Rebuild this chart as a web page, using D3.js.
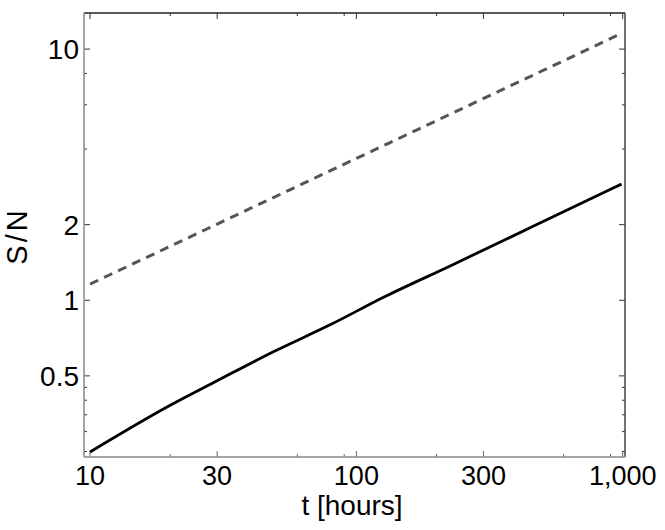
<!DOCTYPE html>
<html>
<head>
<meta charset="utf-8">
<script src="https://cdn.jsdelivr.net/npm/d3@7"></script>
<style>
  body { margin: 0; background: #fff; }
  svg { display: block; }
  text { font-family: "Liberation Sans", Arial, Helvetica, sans-serif; fill: #000; }
</style>
</head>
<body>
<svg></svg>
<script>
// data
var tSolid  = [10, 20, 30, 49, 80, 127, 225, 461, 990];
var snSolid = [0.249, 0.382, 0.478, 0.625, 0.80, 1.03, 1.37, 1.97, 2.90];
var tDashed  = [10, 100, 1000];
var snDashed = [1.16, 3.67, 11.6];

var xMajor = [10, 30, 100, 300, 1000];
var xMinor = [20, 60, 90, 200, 600, 900];
var yMajor = [0.5, 1, 2, 10];
var yMinor = [0.25, 0.3, 0.35, 0.4, 0.45, 4, 6, 8];

var W = 665, H = 530;
// plot frame (window.top is read-only, so use other names)
var pL = 84, pR = 625, pT = 13, pB = 457;

var svg = d3.select('svg').attr('width', W).attr('height', H);

var x = d3.scaleLog().domain([9.49, 1020]).range([pL, pR]);
var y = d3.scaleLog().domain([0.2377, 13.92]).range([pB, pT]);

var fmtX = d3.format(',');

// ticks (inward, on all four sides)
function xticks(vals, len) {
  vals.forEach(function(v) {
    svg.append('line').attr('x1', x(v)).attr('x2', x(v))
      .attr('y1', pB).attr('y2', pB - len).attr('stroke', '#666').attr('stroke-width', 1);
    svg.append('line').attr('x1', x(v)).attr('x2', x(v))
      .attr('y1', pT).attr('y2', pT + len).attr('stroke', '#333').attr('stroke-width', 1);
  });
}
function yticks(vals, len) {
  vals.forEach(function(v) {
    svg.append('line').attr('y1', y(v)).attr('y2', y(v))
      .attr('x1', pL).attr('x2', pL + len).attr('stroke', '#333').attr('stroke-width', 1);
    svg.append('line').attr('y1', y(v)).attr('y2', y(v))
      .attr('x1', pR).attr('x2', pR - len).attr('stroke', '#333').attr('stroke-width', 1);
  });
}
xticks(xMajor, 6);
xticks(xMinor, 3);
yticks(yMajor, 6);
yticks(yMinor, 3);

// frame
svg.append('line').attr('x1', pL).attr('x2', pR).attr('y1', pT).attr('y2', pT)
  .attr('stroke', '#222').attr('stroke-width', 1.3);
svg.append('line').attr('x1', pR).attr('x2', pR).attr('y1', pT).attr('y2', pB)
  .attr('stroke', '#444').attr('stroke-width', 1.5);
svg.append('line').attr('x1', pL).attr('x2', pL).attr('y1', pT).attr('y2', pB)
  .attr('stroke', '#888').attr('stroke-width', 1.5);
svg.append('line').attr('x1', pL).attr('x2', pR).attr('y1', pB).attr('y2', pB)
  .attr('stroke', '#888').attr('stroke-width', 1.5);

// tick labels
svg.selectAll('.xl').data(xMajor).enter().append('text')
  .attr('class', 'xl')
  .attr('x', function(d) { return x(d); })
  .attr('y', 485)
  .attr('text-anchor', 'middle')
  .attr('font-size', 27)
  .text(function(d) { return fmtX(d); });

svg.selectAll('.yl').data(yMajor).enter().append('text')
  .attr('class', 'yl')
  .attr('x', 79)
  .attr('y', function(d) { return y(d) + 10; })
  .attr('text-anchor', 'end')
  .attr('font-size', 28)
  .text(function(d) { return d; });

// axis titles
svg.append('text')
  .attr('x', 352).attr('y', 515)
  .attr('text-anchor', 'middle')
  .attr('font-size', 28)
  .text('t [hours]');

svg.append('text')
  .attr('transform', 'translate(27,236) rotate(-90)')
  .attr('text-anchor', 'middle')
  .attr('font-size', 29)
  .attr('letter-spacing', 3)
  .text('S/N');

// lines
var line = d3.line()
  .x(function(d) { return x(d[0]); })
  .y(function(d) { return y(d[1]); })
  .curve(d3.curveMonotoneX);

svg.append('path')
  .datum(d3.zip(tDashed, snDashed))
  .attr('d', line)
  .attr('fill', 'none')
  .attr('stroke', '#555')
  .attr('stroke-width', 3)
  .attr('stroke-dasharray', '9,6.5');

svg.append('path')
  .datum(d3.zip(tSolid, snSolid))
  .attr('d', line)
  .attr('fill', 'none')
  .attr('stroke', '#000')
  .attr('stroke-width', 2.8);
</script>
</body>
</html>
